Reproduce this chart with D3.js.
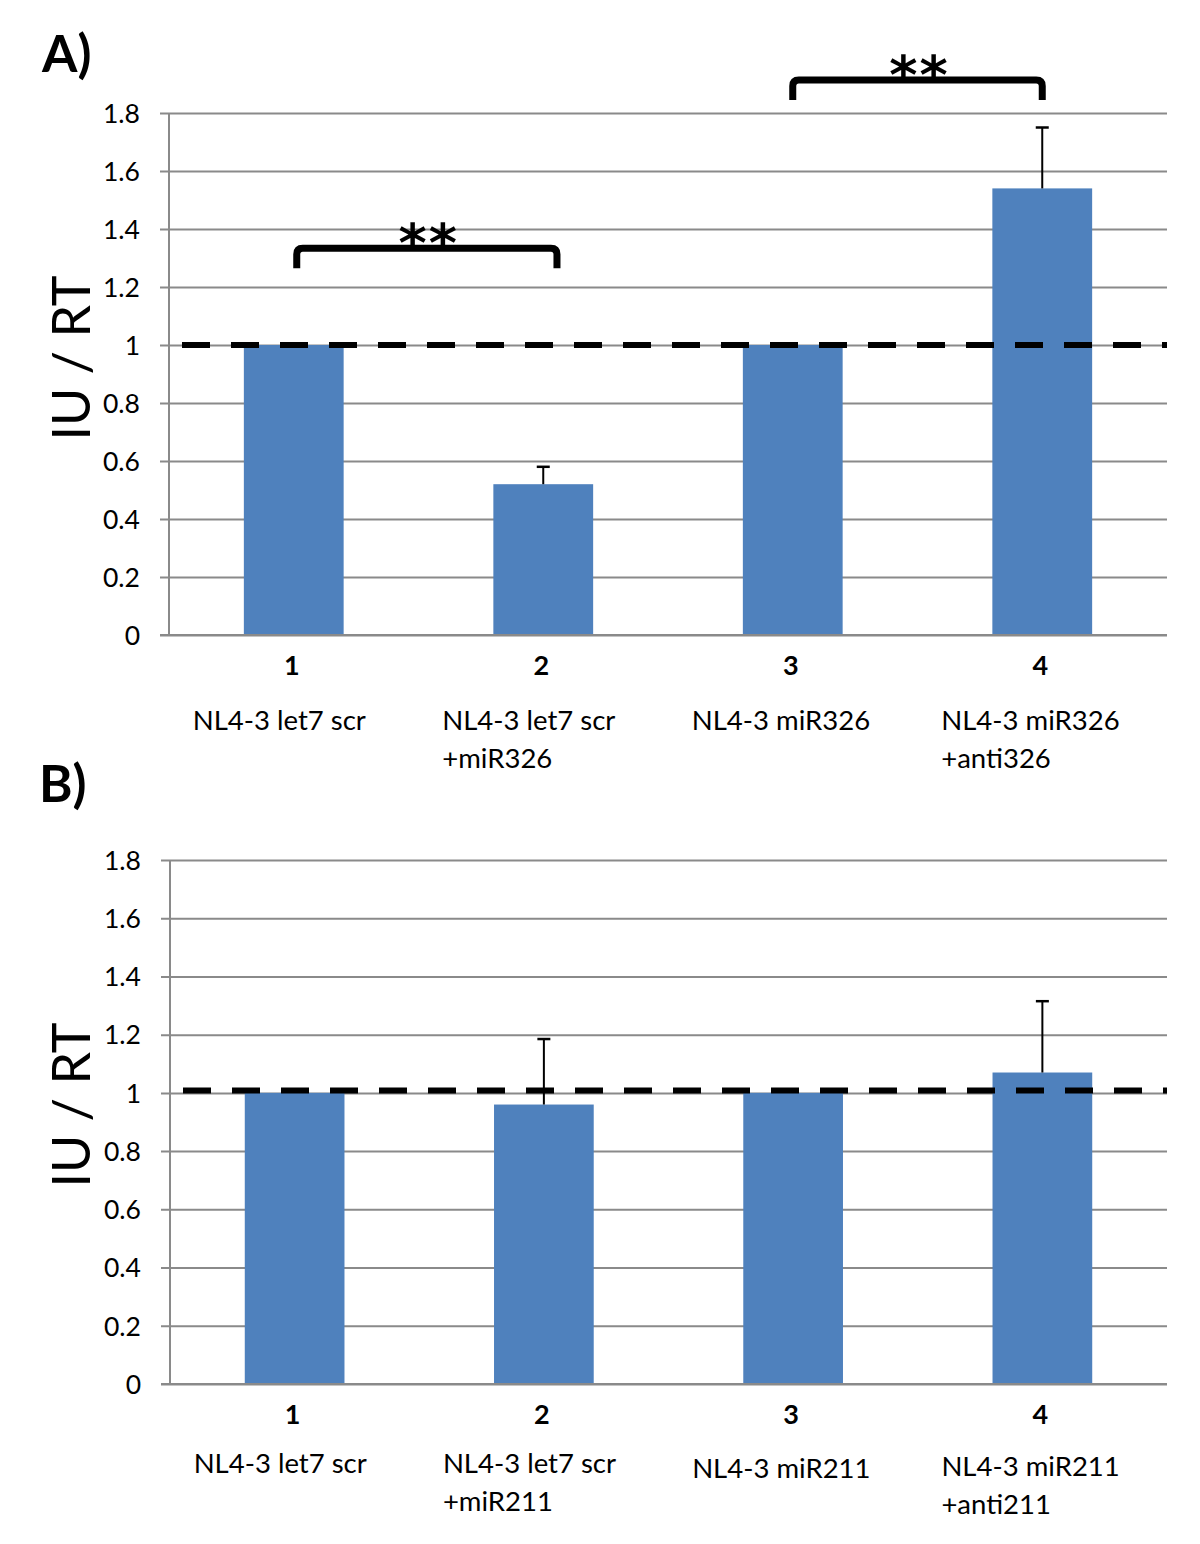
<!DOCTYPE html>
<html>
<head>
<meta charset="utf-8">
<script src="https://cdn.jsdelivr.net/npm/d3@7/dist/d3.min.js"></script>
<style>
  html, body { margin: 0; padding: 0; background: #fff; }
  svg { display: block; }
  text { font-family: Lato, "Open Sans", sans-serif; fill: #000; }
</style>
</head>
<body>
<svg id="chart" width="1200" height="1544"></svg>
<script>
// ---------- data ----------
const categories = ["1", "2", "3", "4"];
const yTicks = [0, 0.2, 0.4, 0.6, 0.8, 1, 1.2, 1.4, 1.6, 1.8];
const yTickLabels = ["0", "0.2", "0.4", "0.6", "0.8", "1", "1.2", "1.4", "1.6", "1.8"];

const labelsA = [["NL4-3 let7 scr"], ["NL4-3 let7 scr", "+miR326"], ["NL4-3 miR326"], ["NL4-3 miR326", "+anti326"]];
const valuesA = [1.0, 0.52, 1.0, 1.54];
const errorsA = [0, 0.06, 0, 0.21];
const refA = 1.0;
const bracketFromA = [0.012, 2.0];
const bracketToA = [1.055, 3.0];
const bracketLevelA = [1.334, 1.914];
const bracketTextA = ["**", "**"];

const labelsB = [["NL4-3 let7 scr"], ["NL4-3 let7 scr", "+miR211"], ["NL4-3 miR211"], ["NL4-3 miR211", "+anti211"]];
const valuesB = [1.0, 0.96, 1.0, 1.07];
const errorsB = [0, 0.225, 0, 0.245];
const refB = 1.008;

const yTitle = "IU / RT";

// ---------- drawing ----------
const svg = d3.select("#chart");

function drawPanel(opt) {
  const g = svg.append("g");
  const x = d3.scaleBand().domain(categories).range([opt.x0, opt.x1])
    .paddingInner(0.6).paddingOuter(0.3);
  const y = d3.scaleLinear().domain([0, 1.8]).range([opt.yBottom, opt.yTop]);
  const cx = i => x(categories[i]) + x.bandwidth() / 2;
  const idx = d3.scaleLinear().domain([0, 1]).range([cx(0), cx(1)]);

  // gridlines + y axis ticks
  const yAxis = d3.axisLeft(y).tickValues(yTicks)
    .tickFormat((d, i) => yTickLabels[i])
    .tickSize(-(opt.x1 - opt.x0)).tickPadding(0);
  const ya = g.append("g").attr("transform", `translate(${opt.x0},0)`).call(yAxis);
  ya.select(".domain").remove();
  ya.selectAll(".tick line").attr("stroke", "#8a8a8a").attr("stroke-width", 2)
    .attr("x1", -9);
  ya.selectAll(".tick text").attr("x", -29).attr("dy", "0.35em")
    .style("font-size", "26.5px").style("font-family", "Lato, sans-serif").attr("fill", "#000");

  // y axis line
  g.append("line").attr("x1", opt.x0).attr("x2", opt.x0)
    .attr("y1", y(1.8)).attr("y2", y(0)).attr("stroke", "#8a8a8a").attr("stroke-width", 2);

  // bars
  g.selectAll("rect.bar").data(opt.values).join("rect").attr("class", "bar")
    .attr("x", (d, i) => x(categories[i]))
    .attr("width", x.bandwidth())
    .attr("y", d => y(d))
    .attr("height", d => y(0) - y(d))
    .attr("fill", "#4f81bd");

  // error bars
  opt.values.forEach((v, i) => {
    const e = opt.errors[i];
    if (!e) return;
    const c = cx(i);
    g.append("line").attr("x1", c).attr("x2", c).attr("y1", y(v)).attr("y2", y(v + e))
      .attr("stroke", "#000").attr("stroke-width", 2);
    g.append("line").attr("x1", c - 6.5).attr("x2", c + 6.5).attr("y1", y(v + e)).attr("y2", y(v + e))
      .attr("stroke", "#000").attr("stroke-width", 2.5);
  });

  // x axis baseline
  g.append("line").attr("x1", opt.x0 - 9).attr("x2", opt.x1)
    .attr("y1", y(0)).attr("y2", y(0)).attr("stroke", "#8a8a8a").attr("stroke-width", 2);

  // reference dashed line
  g.append("line").attr("x1", opt.x0 + 13).attr("x2", opt.x1)
    .attr("y1", y(opt.ref)).attr("y2", y(opt.ref))
    .attr("stroke", "#000").attr("stroke-width", 6).attr("stroke-dasharray", "28,21");

  // category numbers
  g.selectAll("text.num").data(categories).join("text").attr("class", "num")
    .attr("x", (d, i) => cx(i) - 2).attr("y", opt.numY)
    .attr("text-anchor", "middle").style("font-size", "27px").style("font-weight", "bold")
    .text(d => d);

  // category labels
  opt.labels.forEach((lines, i) => {
    const ly = opt.labY + (opt.labDy ? opt.labDy[i] : 0);
    const t = g.append("text").attr("x", cx(i) - 101).attr("y", ly)
      .style("font-size", "27.5px");
    lines.forEach((ln, k) => {
      t.append("tspan").attr("x", cx(i) - 101).attr("dy", k === 0 ? 0 : 38).text(ln);
    });
  });

  // y title
  g.append("text")
    .attr("transform", `translate(90,${opt.titleY}) rotate(-90)`)
    .attr("text-anchor", "middle").style("font-size", "52px")
    .text(yTitle);

  // panel letter
  g.append("text").attr("x", opt.letterX).attr("y", opt.letterY)
    .style("font-size", "51px").style("font-weight", "bold").text(opt.letter);

  // significance brackets
  if (opt.brFrom) {
    opt.brFrom.forEach((f, k) => {
      const xa = idx(f), xb = idx(opt.brTo[k]);
      const yt = y(opt.brLevel[k]);
      const yb = yt + 20;
      const r = 6;
      g.append("path")
        .attr("d", `M${xa},${yb} L${xa},${yt + r} Q${xa},${yt} ${xa + r},${yt} L${xb - r},${yt} Q${xb},${yt} ${xb},${yt + r} L${xb},${yb}`)
        .attr("fill", "none").attr("stroke", "#000").attr("stroke-width", 7);
      g.append("text").attr("x", (xa + xb) / 2 + 2).attr("y", yt + 14)
        .attr("text-anchor", "middle").style("font-size", "54px").style("font-weight", "bold")
        .style("letter-spacing", "2px")
        .style("font-family", "'DejaVu Sans', sans-serif")
        .text(opt.brText[k]);
    });
  }
}

drawPanel({
  x0: 169, x1: 1167, yTop: 113, yBottom: 635,
  values: valuesA, errors: errorsA, ref: refA, labels: labelsA,
  numY: 675, labY: 730, titleY: 358, letter: "A)", letterX: 42, letterY: 72,
  brFrom: bracketFromA, brTo: bracketToA, brLevel: bracketLevelA, brText: bracketTextA
});

drawPanel({
  x0: 170, x1: 1167, yTop: 860, yBottom: 1384,
  values: valuesB, errors: errorsB, ref: refB, labels: labelsB, labDy: [0, 0, 5, 3],
  numY: 1424, labY: 1473, titleY: 1105, letter: "B)", letterX: 39, letterY: 802
});
</script>
</body>
</html>
